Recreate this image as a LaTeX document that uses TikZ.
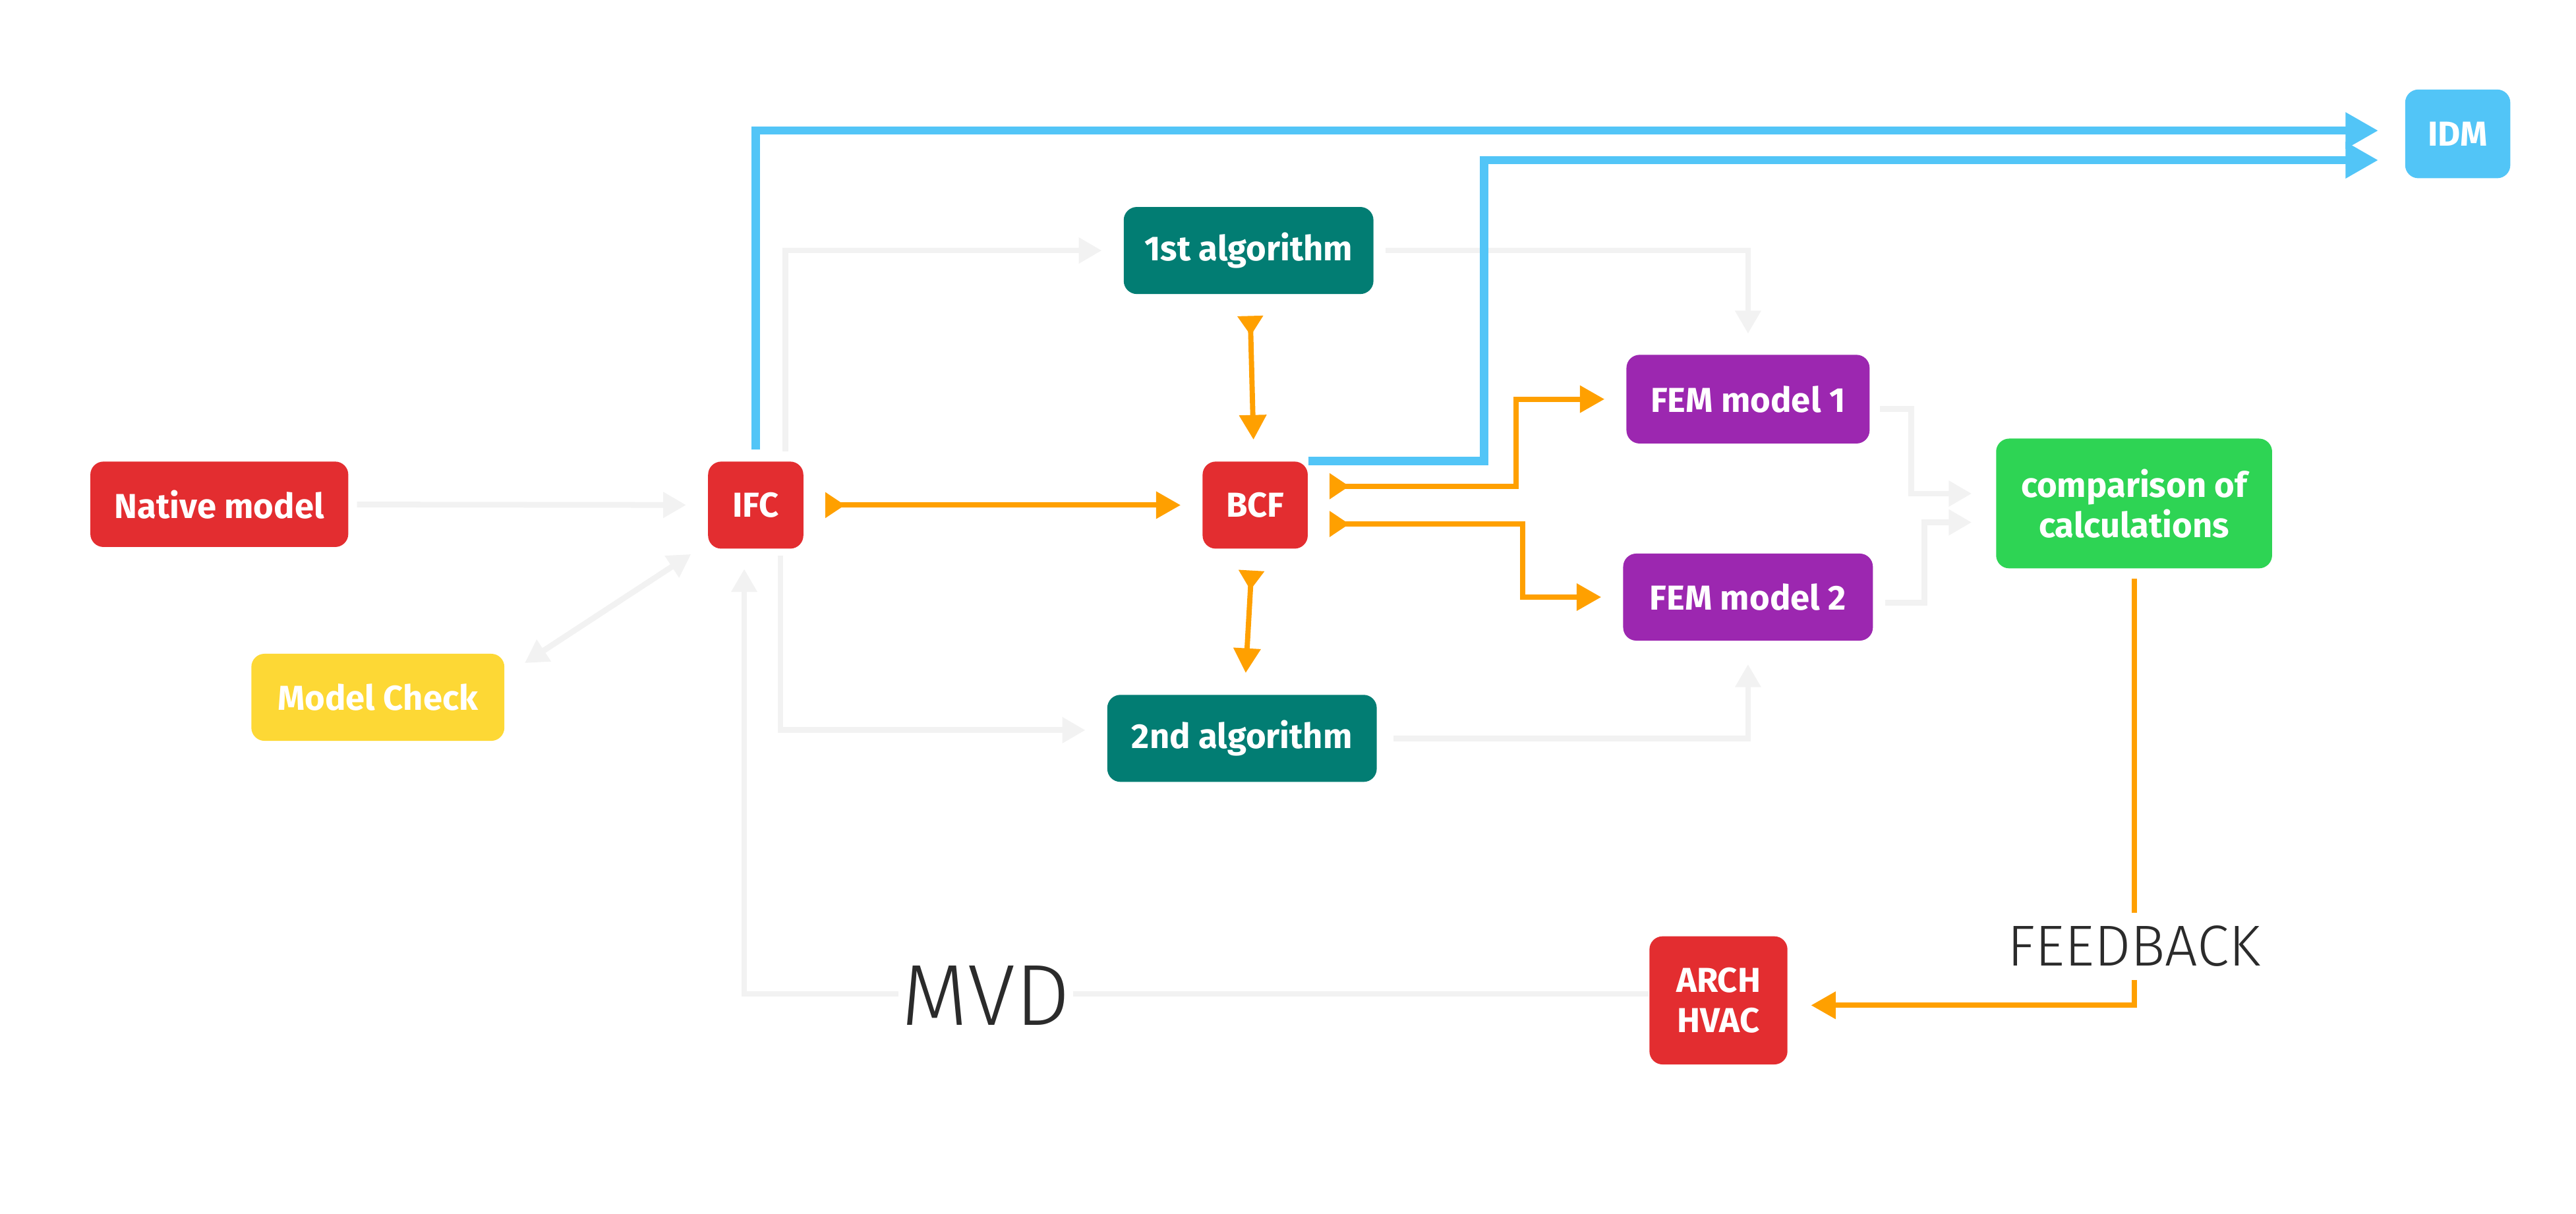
\documentclass[tikz,border=0pt]{standalone}
\usepackage{fontspec}
\setsansfont{Fira Sans}
\newfontfamily\lightfont{Fira Sans Light}
\usetikzlibrary{arrows.meta}
\usetikzlibrary{calc}

\definecolor{boxred}{HTML}{E32D30}
\definecolor{boxteal}{HTML}{027D73}
\definecolor{boxpurple}{HTML}{9C27B0}
\definecolor{boxgreen}{HTML}{2ED454}
\definecolor{boxyellow}{HTML}{FDD835}
\definecolor{boxblue}{HTML}{52C5F7}
\definecolor{flowgray}{HTML}{F2F2F2}
\definecolor{floworange}{HTML}{FFA000}
\definecolor{labelgray}{HTML}{2B2B2B}

\tikzset{
   stepbox/.style={rounded corners=0.16cm, inner sep=0pt, align=center, text=white,
      font=\sffamily\bfseries\fontsize{12}{14}\selectfont},
   redbox/.style={stepbox, fill=boxred},
   tealbox/.style={stepbox, fill=boxteal},
   purplebox/.style={stepbox, fill=boxpurple},
   greenbox/.style={stepbox, fill=boxgreen},
   yellowbox/.style={stepbox, fill=boxyellow},
   bluebox/.style={stepbox, fill=boxblue},
   graylink/.style={draw=flowgray, line width=2pt, >={Triangle[length=0.28cm,width=0.3cm]}, ->},
   orangelink/.style={draw=floworange, line width=1.8pt,
      {Triangle[reversed,length=0.24cm,width=0.3cm]}-{Triangle[length=0.3cm,width=0.32cm]},
      shorten <=0.26cm, shorten >=0.26cm},
   feedlink/.style={draw=floworange, line width=1.8pt, -{Triangle[length=0.3cm,width=0.32cm]}},
   bluelink/.style={draw=boxblue, line width=2.8pt, -{Triangle[length=0.4cm,width=0.42cm]}},
   textlabel/.style={fill=white, text=labelgray, inner xsep=1pt, inner ysep=0.16cm}
}

\begin{document}
\begin{tikzpicture}
   \useasboundingbox (0,0) rectangle (31.36,-14.78);

   \node[redbox, minimum width=3.14cm, minimum height=1.04cm] (native) at (2.67,-6.14) {Native model};
   \node[yellowbox, minimum width=3.08cm, minimum height=1.06cm] (check) at (4.60,-8.49) {Model Check};
   \node[redbox, minimum width=1.16cm, minimum height=1.06cm] (ifc) at (9.20,-6.15) {IFC};
   \node[redbox, minimum width=1.28cm, minimum height=1.06cm] (bcf) at (15.28,-6.15) {BCF};
   \node[tealbox, minimum width=3.04cm, minimum height=1.06cm] (alg1) at (15.20,-3.05) {1st algorithm};
   \node[tealbox, minimum width=3.28cm, minimum height=1.06cm] (alg2) at (15.12,-8.99) {2nd algorithm};
   \node[purplebox, minimum width=2.96cm, minimum height=1.08cm] (fem1) at (21.28,-4.86) {FEM model 1};
   \node[purplebox, minimum width=3.04cm, minimum height=1.06cm] (fem2) at (21.28,-7.27) {FEM model 2};
   \node[greenbox, minimum width=3.36cm, minimum height=1.58cm] (comp) at (25.98,-6.13) {comparison of\\calculations};
   \node[bluebox, minimum width=1.28cm, minimum height=1.08cm] (idm) at (29.92,-1.63) {IDM};
   \node[redbox, minimum width=1.68cm, minimum height=1.56cm] (arch) at (20.92,-12.18) {ARCH\\HVAC};

   \draw[graylink, shorten <=0.1cm, shorten >=0.26cm] (native) -- (ifc);
   \draw[graylink, <->] ([xshift=0.24cm,yshift=-0.12cm]check.north east) -- ([xshift=-0.2cm,yshift=-0.06cm]ifc.south west);
   \draw[graylink, shorten <=0.12cm, shorten >=0.26cm] ([xshift=0.36cm]ifc.north) |- (alg1.west);
   \draw[graylink, shorten <=0.08cm, shorten >=0.26cm] ([xshift=0.3cm]ifc.south) |- ([yshift=0.1cm]alg2.west);
   \draw[graylink, shorten >=0.24cm] ([yshift=0.08cm]arch.west) -| ([xshift=-0.14cm]ifc.south);
   \draw[graylink, shorten <=0.14cm, shorten >=0.25cm] (alg1.east) -| (fem1.north);
   \draw[graylink, shorten <=0.2cm, shorten >=0.28cm] (alg2.east) -| (fem2.south);
   \draw[graylink, shorten <=0.12cm, shorten >=0.29cm] ([yshift=-0.12cm]fem1.east) -- ++(0.5,0) |- ([yshift=0.12cm]comp.west);
   \draw[graylink, shorten <=0.14cm, shorten >=0.29cm] ([yshift=-0.07cm]fem2.east) -- ++(0.62,0) |- ([yshift=-0.23cm]comp.west);

   \draw[orangelink] (ifc) -- (bcf);
   \draw[orangelink] (alg1) -- (bcf);
   \draw[orangelink] (bcf) -- (alg2);
   \draw[orangelink] ([yshift=0.23cm]bcf.east) -| ([xshift=-1.34cm]fem1.west) |- (fem1.west);
   \draw[orangelink] ([yshift=-0.23cm]bcf.east) -| ([xshift=-1.22cm]fem2.west) |- (fem2.west);
   \draw[feedlink, shorten <=0.12cm, shorten >=0.28cm] (comp.south) |- ([yshift=-0.06cm]arch.east);

   \draw[bluelink, shorten <=0.14cm, shorten >=0.32cm] (ifc.north) |- ([yshift=0.04cm]idm.west);
   \draw[bluelink, shorten >=0.32cm] (bcf.north east) -- ++(2.14,0) |- ([yshift=-0.32cm]idm.west);

   \node[textlabel, font=\lightfont\fontsize{20}{24}\selectfont] (feedback) at (25.98,-11.52) {FEEDBACK};
   \node[textlabel, inner ysep=1pt, font=\lightfont\fontsize{30}{36}\selectfont] (mvd) at (12.00,-12.12) {MVD};
\end{tikzpicture}
\end{document}
